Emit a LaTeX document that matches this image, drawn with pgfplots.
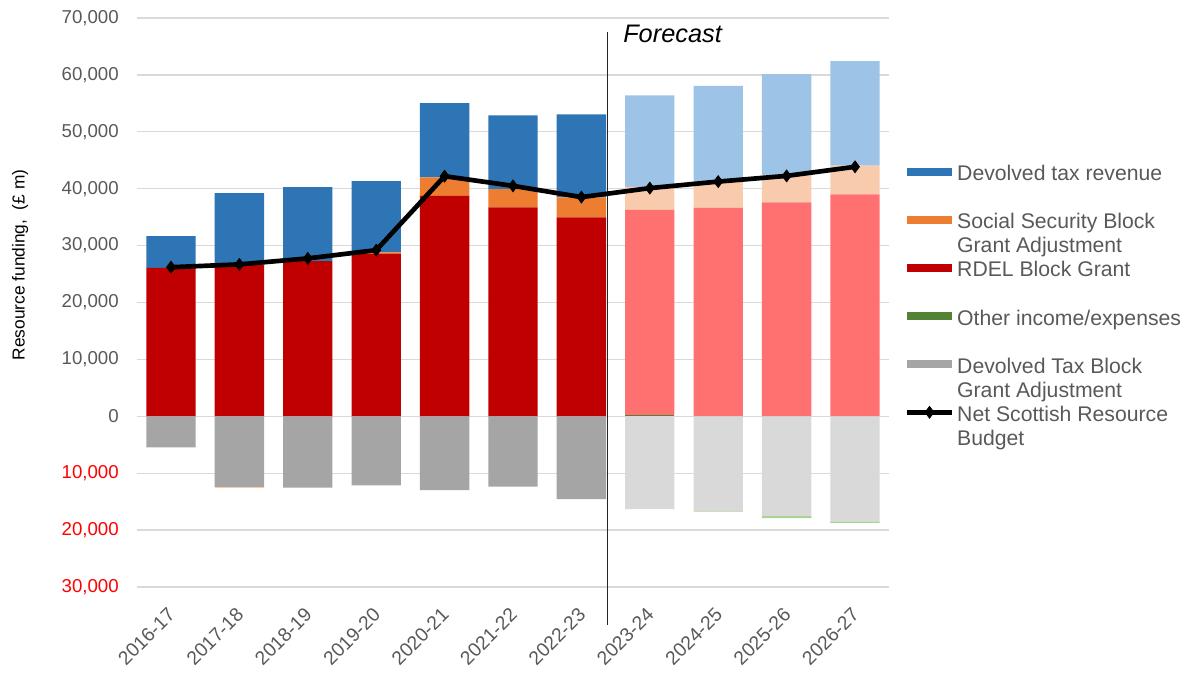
\documentclass[border=0pt]{standalone}
\usepackage{pgfplots}
\pgfplotsset{compat=1.18}
\usepackage{fontspec}
\setmainfont{Liberation Sans}
\definecolor{blueA}{HTML}{2E75B6}
\definecolor{blueF}{HTML}{9DC3E6}
\definecolor{orangeA}{HTML}{ED7D31}
\definecolor{orangeF}{HTML}{F8CBAD}
\definecolor{redA}{HTML}{C00000}
\definecolor{redF}{HTML}{FF7171}
\definecolor{greenA}{HTML}{548235}
\definecolor{greenF}{HTML}{A9D18E}
\definecolor{grayA}{HTML}{A5A5A5}
\definecolor{grayF}{HTML}{D9D9D9}
\definecolor{txtgray}{HTML}{595959}
\definecolor{gridgray}{HTML}{D9D9D9}
\newcommand{\legone}[1]{\raisebox{0pt}[15pt][4pt]{#1}}
\newcommand{\legtwo}[2]{\raisebox{0pt}[15pt][4pt]{\begin{tabular}[t]{@{}l@{}}#1\\#2\end{tabular}}}
\pgfplotsset{
  barleg/.style={legend image code/.code={\fill[##1] (0pt,-3pt) rectangle (34pt,3pt);}},
  lineleg/.style={legend image code/.code={\draw[mark repeat=2,mark phase=2,##1] plot coordinates {(0pt,0pt) (17pt,0pt) (34pt,0pt)};}},
  base/.style={at={(0,0)}, anchor=south west, scale only axis,
    width=564.3pt, height=426.75pt,
    xmin=-0.5, xmax=10.5, ymin=-30000, ymax=70000,
    scaled y ticks=false, scaled x ticks=false},
}
\begin{document}
\begin{tikzpicture}
\useasboundingbox (-102.6pt,-64.5pt) rectangle (790.65pt,440.25pt);
% positives
\begin{axis}[base, ybar stacked, bar width=37pt,
  axis line style={draw=none}, major tick length=0pt,
  ymajorgrids, grid style={color=gridgray, line width=1pt},
  xtick={0,1,2,3,4,5,6,7,8,9,10},
  xticklabels={2016-17,2017-18,2018-19,2019-20,2020-21,2021-22,2022-23,2023-24,2024-25,2025-26,2026-27},
  xticklabel style={rotate=45, anchor=north east, inner sep=0pt, xshift=-12.5pt, yshift=-8pt, font=\fontsize{14.5}{17}\selectfont, text=txtgray},
  ytick={-30000,-20000,-10000,0,10000,20000,30000,40000,50000,60000,70000},
  yticklabels={\textcolor{red}{30,000},\textcolor{red}{20,000},\textcolor{red}{10,000},0,{10,000},{20,000},{30,000},{40,000},{50,000},{60,000},{70,000}},
  yticklabel style={anchor=east, xshift=-10pt, font=\fontsize{14}{16}\selectfont, text=txtgray},
  ylabel={Resource funding,~~(£ m)},
  ylabel style={at={(rel axis cs:-0.155,0.566)}, anchor=center, font=\fontsize{13}{15}\selectfont, text=black},
]
\addplot[fill=greenA, draw=none] coordinates {(0,0) (1,0) (2,0) (3,0) (4,0) (5,0) (6,0) (7,250) (8,0) (9,0) (10,0)};
\addplot[fill=redA, draw=none] coordinates {(0,26100) (1,26650) (2,27250) (3,28550) (4,38750) (5,36700) (6,34950) (7,0) (8,0) (9,0) (10,0)};
\addplot[fill=redF, draw=none] coordinates {(0,0) (1,0) (2,0) (3,0) (4,0) (5,0) (6,0) (7,36040) (8,36640) (9,37580) (10,39000)};
\addplot[fill=orangeA, draw=none] coordinates {(0,0) (1,0) (2,0) (3,250) (4,3230) (5,3220) (6,3510) (7,0) (8,0) (9,0) (10,0)};
\addplot[fill=orangeF, draw=none] coordinates {(0,0) (1,0) (2,0) (3,0) (4,0) (5,0) (6,0) (7,4040) (8,4500) (9,4750) (10,5050)};
\addplot[fill=blueA, draw=none] coordinates {(0,5550) (1,12570) (2,13020) (3,12540) (4,13070) (5,12960) (6,14600) (7,0) (8,0) (9,0) (10,0)};
\addplot[fill=blueF, draw=none] coordinates {(0,0) (1,0) (2,0) (3,0) (4,0) (5,0) (6,0) (7,16070) (8,16950) (9,17820) (10,18380)};
\end{axis}
% negatives
\begin{axis}[base, hide axis, ybar stacked, bar width=37pt]
\addplot[fill=grayA, draw=none] coordinates {(0,-5450) (1,-12400) (2,-12540) (3,-12130) (4,-12960) (5,-12370) (6,-14540) (7,0) (8,0) (9,0) (10,0)};
\addplot[fill=grayF, draw=none] coordinates {(0,0) (1,0) (2,0) (3,0) (4,0) (5,0) (6,0) (7,-16300) (8,-16650) (9,-17550) (10,-18450)};
\addplot[fill=orangeF, draw=none] coordinates {(0,0) (1,-100) (2,0) (3,0) (4,0) (5,0) (6,0) (7,0) (8,0) (9,0) (10,0)};
\addplot[fill=greenF, draw=none] coordinates {(0,0) (1,0) (2,0) (3,0) (4,0) (5,0) (6,0) (7,0) (8,-100) (9,-350) (10,-300)};
\end{axis}
% line, forecast marker, legend
\begin{axis}[base, hide axis, clip=false,
  legend style={at={(rel axis cs:1.020,0.7545)}, anchor=north west, draw=none, fill=none,
    font=\fontsize{15.9}{18}\selectfont, text=txtgray, row sep=15.6pt, column sep=0pt,
    inner sep=0pt, nodes={inner xsep=2pt, inner ysep=2pt}},
  legend cell align=left]
\addplot[black!85, line width=1pt, forget plot] coordinates {(6.379,67600) (6.379,-36760)};
\addplot[black, line width=3.5pt, mark=diamond*, mark size=4.5pt, mark options={line width=0.5pt}, forget plot]
  coordinates {(0,26200) (1,26700) (2,27750) (3,29200) (4,42200) (5,40500) (6,38520) (7,40100) (8,41250) (9,42250) (10,43850)};
\node[anchor=base west, inner sep=0pt, font=\fontsize{19}{22}\selectfont\itshape] at (axis cs:6.608,65650) {Forecast};
\addlegendimage{barleg, fill=blueA, draw=none}
\addlegendentry{\legone{Devolved tax revenue}}
\addlegendimage{barleg, fill=orangeA, draw=none}
\addlegendentry{\legtwo{Social Security Block}{Grant Adjustment}}
\addlegendimage{barleg, fill=redA, draw=none}
\addlegendentry{\legone{RDEL Block Grant}}
\addlegendimage{barleg, fill=greenA, draw=none}
\addlegendentry{\legone{Other income/expenses}}
\addlegendimage{barleg, fill=grayA, draw=none}
\addlegendentry{\legtwo{Devolved Tax Block}{Grant Adjustment}}
\addlegendimage{lineleg, black, line width=3.5pt, mark=diamond*, mark size=4.5pt, mark options={line width=0.5pt}}
\addlegendentry{\legtwo{Net Scottish Resource}{Budget}}
\end{axis}
\end{tikzpicture}
\end{document}
